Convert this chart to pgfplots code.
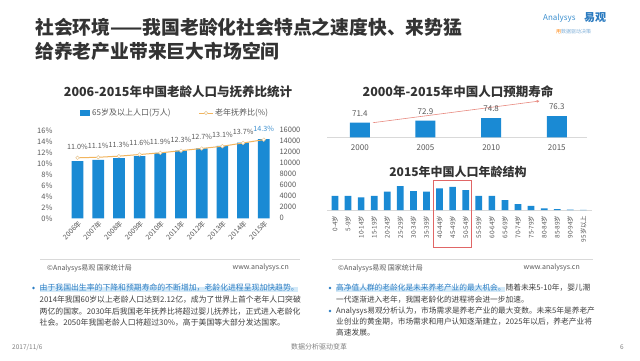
\documentclass[border=0pt]{standalone}
\usepackage{pgfplots}
\pgfplotsset{compat=1.18}
\usetikzlibrary{arrows.meta}
\usepackage{fontspec}
\setmainfont{Noto Sans CJK SC}
\newcommand\fs[1]{\fontsize{#1}{#1}\selectfont}
\definecolor{titlegray}{HTML}{333333}
\definecolor{textgray}{HTML}{3F3F3F}
\definecolor{tickgray}{HTML}{595959}
\definecolor{barblue}{HTML}{1A8AD4}
\definecolor{lineorange}{HTML}{F2B55E}
\definecolor{markedge}{HTML}{E9C894}
\definecolor{textblue}{HTML}{2A7DC4}
\definecolor{hlblue}{HTML}{D3E9F8}
\definecolor{sepgray}{HTML}{D9D9D9}
\definecolor{redbox}{HTML}{E06666}
\definecolor{arrowred}{HTML}{E88A80}
\definecolor{labelblue}{HTML}{3B8FCF}
\definecolor{logoblue}{HTML}{2B7BC0}
\pgfplotsset{/pgf/number format/assume math mode=true}
\begin{document}
\begin{tikzpicture}[x=1pt,y=1pt]
\fill[white] (0,0) rectangle (640,-360);
\path[use as bounding box] (0,0) rectangle (640,-360);

% ---------- title ----------
\node[anchor=west, inner sep=0, text=titlegray, font=\fs{18.8}\bfseries] at (35,-27) {社会环境——我国老龄化社会特点之速度快、来势猛};
\node[anchor=west, inner sep=0, text=titlegray, font=\fs{18.8}\bfseries] at (35,-51) {给养老产业带来巨大市场空间};

% ---------- logo ----------
\node[anchor=west, inner sep=0, text=labelblue, font=\fs{8}\itshape] at (543,-18) {Analysys};
\node[anchor=west, inner sep=0, text=logoblue, font=\fs{11}\bfseries] at (584,-18) {易观};
\node[anchor=west, inner sep=0, text=logoblue!60, font=\fs{5}] at (556,-32) {{\color{orange}用}数据驱动决策};

% ---------- left chart ----------
\node[text=titlegray, font=\fs{12.5}\bfseries] at (178,-92) {2006-2015年中国老龄人口与抚养比统计};
% legend
\fill[barblue] (80,-110) rectangle (90,-116);
\node[anchor=west, inner sep=0, text=tickgray, font=\fs{8}] at (92,-113) {65岁及以上人口(万人)};
\draw[lineorange, line width=1pt] (199,-113) -- (213,-113);
\draw[markedge, fill=white, line width=0.5pt] (206,-113) circle (1.8);
\node[anchor=west, inner sep=0, text=tickgray, font=\fs{8}] at (215,-113) {老年抚养比(\%)};

\begin{axis}[
  at={(56pt,-218.3pt)}, anchor=south west, scale only axis,
  width=220pt, height=88pt,
  xmin=-1.04, xmax=9.59, ymin=0, ymax=16000,
  axis x line*=bottom, axis y line*=right,
  axis line style={draw=none}, major tick length=0pt,
  ytick={0,2000,...,16000}, scaled y ticks=false,
  yticklabel style={font=\fs{7.5}, text=tickgray, /pgf/number format/1000 sep={}},
  xtick={0,...,9},
  xticklabels={2006年,2007年,2008年,2009年,2010年,2011年,2012年,2013年,2014年,2015年},
  xticklabel style={font=\fs{7}, text=tickgray, rotate=45, anchor=north east, inner sep=1pt},
  ybar, bar width=11.7pt,
]
\addplot[fill=barblue, draw=none] coordinates {(0,10419) (1,10636) (2,10956) (3,11307) (4,11894) (5,12288) (6,12714) (7,13161) (8,13755) (9,14386)};
\end{axis}

\begin{axis}[
  at={(56pt,-218.3pt)}, anchor=south west, scale only axis,
  width=220pt, height=88pt,
  xmin=-1.04, xmax=9.59, ymin=0, ymax=16,
  axis x line=none, axis y line*=left,
  axis line style={draw=none}, major tick length=0pt,
  ytick={0,2,...,16},
  yticklabel={\pgfmathprintnumber{\tick}\%},
  yticklabel style={font=\fs{7.5}, text=tickgray},
  clip=false,
]
\addplot[color=lineorange, line width=1pt, mark=*, mark size=1.8pt, mark options={fill=white, draw=markedge, line width=0.5pt}] coordinates {(0,11.0) (1,11.1) (2,11.3) (3,11.6) (4,11.9) (5,12.3) (6,12.7) (7,13.1) (8,13.7) (9,14.3)};
\addplot[draw=none, point meta=y,
  nodes near coords={\pgfmathprintnumber[fixed,fixed zerofill,precision=1]{\pgfplotspointmeta}\%},
  every node near coord/.append style={font=\fs{7.2}, text=tickgray, anchor=south, yshift=5pt, inner xsep=0pt}]
  coordinates {(0,11.0) (1,11.1) (2,11.3) (3,11.6) (4,11.9) (5,12.3) (6,12.7) (7,13.1) (8,13.7)};
\addplot[draw=none, point meta=y,
  nodes near coords={\pgfmathprintnumber[fixed,fixed zerofill,precision=1]{\pgfplotspointmeta}\%},
  every node near coord/.append style={font=\fs{7.2}, text=labelblue, anchor=south, yshift=5pt, inner xsep=0pt}]
  coordinates {(9,14.3)};
\end{axis}

\draw[sepgray, line width=0.6pt] (40,-259) -- (300,-259);
\node[anchor=west, inner sep=0, text=tickgray, font=\fs{7}] at (47,-268) {©Analysys易观 国家统计局};
\node[anchor=east, inner sep=0, text=tickgray, font=\fs{7}] at (289,-268) {www.analysys.cn};

% ---------- right top chart ----------
\node[text=titlegray, font=\fs{12.5}\bfseries] at (458,-92) {2000年-2015年中国人口预期寿命};
\begin{axis}[
  at={(327pt,-137.3pt)}, anchor=south west, scale only axis,
  width=260pt, height=40pt,
  xmin=-0.5, xmax=3.46, ymin=60.7, ymax=90,
  axis x line*=bottom, hide y axis,
  axis line style={draw=sepgray, line width=0.6pt}, major tick length=0pt,
  xtick={0,1,2,3}, xticklabels={2000,2005,2010,2015},
  xticklabel style={font=\fs{8}, text=tickgray},
  xticklabel shift=4pt,
  ybar, bar width=20pt,
  nodes near coords,
  every node near coord/.append style={font=\fs{8}, text=tickgray, anchor=south, yshift=3pt, /pgf/number format/fixed, /pgf/number format/fixed zerofill, /pgf/number format/precision=1},
]
\addplot[fill=barblue, draw=none] coordinates {(0,71.4) (1,72.9) (2,74.8) (3,76.3)};
\draw[arrowred, line width=0.6pt, -{Latex[length=3pt,width=3pt]}] (axis cs:0.2,71.4) -- (axis cs:2.74,87.3);
\end{axis}

% ---------- right bottom chart ----------
\node[text=titlegray, font=\fs{12}\bfseries] at (458,-171.5) {2015年中国人口年龄结构};
\begin{axis}[
  at={(327pt,-210pt)}, anchor=south west, scale only axis,
  width=265pt, height=26.97pt,
  xmin=-0.61, xmax=19.66, ymin=0, ymax=10,
  axis x line*=bottom, hide y axis,
  axis line style={draw=sepgray, line width=0.6pt}, major tick length=0pt,
  xtick={0,...,19},
  xticklabels={0-4岁,5-9岁,10-14岁,15-19岁,20-24岁,25-29岁,30-34岁,35-39岁,40-44岁,45-49岁,50-54岁,55-59岁,60-64岁,65-69岁,70-74岁,75-79岁,80-84岁,85-89岁,90-94岁,95岁以上},
  xticklabel style={font=\fs{6.4}, text=tickgray, rotate=90, anchor=east, inner sep=0.5pt},
  xticklabel shift=5pt,
  ybar, bar width=6.7pt, clip=false,
]
\addplot[fill=barblue, draw=none] coordinates {(0,5.2) (1,5.2) (2,4.7) (3,5.2) (4,6.8) (5,8.9) (6,7.0) (7,6.8) (8,8.0) (9,8.6) (10,7.4) (11,5.2) (12,5.2) (13,3.7) (14,2.2) (15,1.5) (16,0.6) (17,0.3) (18,0.1) (19,0.02)};
\end{axis}
\draw[redbox, line width=0.6pt] (433.3,-180) rectangle (471.7,-247.7);

\draw[sepgray, line width=0.6pt] (332,-259) -- (593,-259);
\node[anchor=west, inner sep=0, text=tickgray, font=\fs{7}] at (338,-268) {©Analysys易观 国家统计局};
\node[anchor=east, inner sep=0, text=tickgray, font=\fs{7}] at (580,-268) {www.analysys.cn};

% ---------- bottom text left ----------
\fill[textblue] (33.5,-288) circle (1.4);
\fill[hlblue] (39.5,-287) rectangle (298,-292);
\node[anchor=west, inner sep=0, text=textblue, font=\fs{7.85}] at (39.5,-288) {由于我国出生率的下降和预期寿命的不断增加，老龄化进程呈现加快趋势。};
\node[anchor=west, inner sep=0, text=textgray, font=\fs{7.85}] at (39.5,-300) {2014年我国60岁以上老龄人口达到2.12亿，成为了世界上首个老年人口突破};
\node[anchor=west, inner sep=0, text=textgray, font=\fs{7.85}] at (39.5,-311.7) {两亿的国家。2030年后我国老年抚养比将超过婴儿抚养比，正式进入老龄化};
\node[anchor=west, inner sep=0, text=textgray, font=\fs{7.85}] at (39.5,-323) {社会。2050年我国老龄人口将超过30\%，高于美国等大部分发达国家。};

% ---------- bottom text right ----------
\fill[textblue] (330,-288) circle (1.4);
\fill[hlblue] (336,-287) rectangle (505,-292);
\node[anchor=west, inner sep=0, text=textgray, font=\fs{7.7}] at (336,-288) {{\color{textblue}高净值人群的老龄化是未来养老产业的最大机会。}随着未来5-10年，婴儿潮};
\node[anchor=west, inner sep=0, text=textgray, font=\fs{7.7}] at (336,-299.7) {一代逐渐进入老年，我国老龄化的进程将会进一步加速。};
\fill[textblue] (330,-311) circle (1.4);
\node[anchor=west, inner sep=0, text=textgray, font=\fs{7.7}] at (336,-311) {Analysys易观分析认为，市场需求是养老产业的最大变数。未来5年是养老产};
\node[anchor=west, inner sep=0, text=textgray, font=\fs{7.7}] at (336,-322) {业创业的黄金期，市场需求和用户认知逐渐建立，2025年以后，养老产业将};
\node[anchor=west, inner sep=0, text=textgray, font=\fs{7.7}] at (336,-333) {高速发展。};

% ---------- footer ----------
\node[anchor=west, inner sep=0, text=gray, font=\fs{6.5}] at (12,-347) {2017/11/6};
\node[inner sep=0, text=gray, font=\fs{7}] at (319,-347) {数据分析驱动变革};
\node[inner sep=0, text=gray, font=\fs{6.5}] at (622,-347) {6};
\end{tikzpicture}
\end{document}
